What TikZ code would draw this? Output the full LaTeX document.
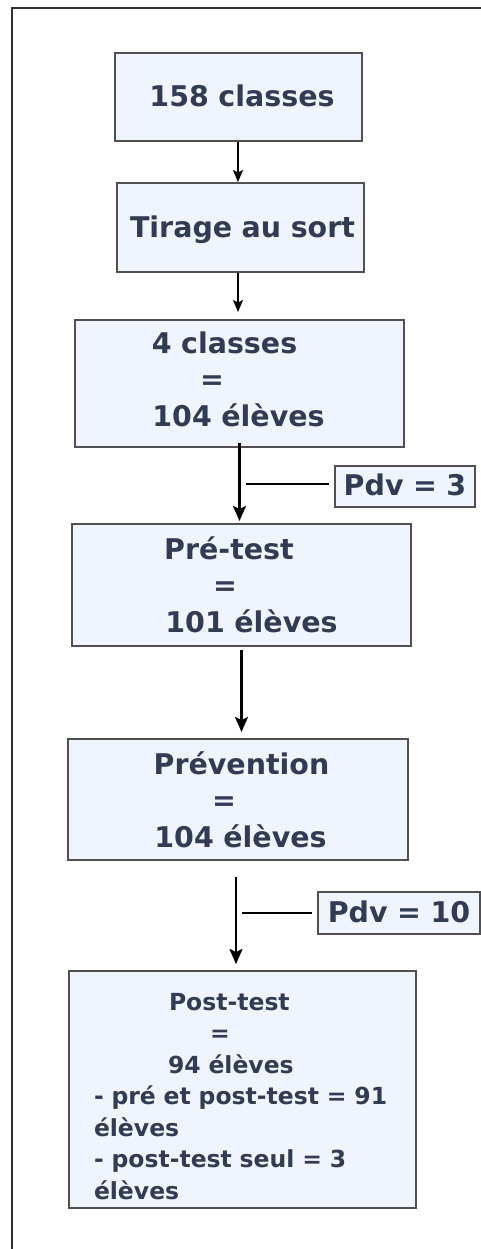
\documentclass[tikz,border=0pt]{standalone}
\usepackage{fontspec}
\setmainfont{DejaVu Sans}
\usetikzlibrary{arrows.meta,calc}
\definecolor{txt}{RGB}{50,59,84}
\definecolor{boxfill}{RGB}{240,244,252}
\definecolor{boxline}{RGB}{80,80,80}
\definecolor{frameline}{RGB}{50,50,50}
\tikzset{
  fbox/.style={draw=boxline, line width=2pt, fill=boxfill, rectangle, inner sep=0pt,
    text=txt, align=center, font=\bfseries\fontsize{28.5}{36.8}\selectfont},
  arr/.style={draw=black, line width=2.3pt, -{Stealth[length=15pt,width=13pt,inset=3pt]}},
  thinarr/.style={draw=black, line width=1.8pt, -{Stealth[length=12pt,width=10pt,inset=2.5pt]}},
  sideline/.style={draw=black, line width=2.4pt}
}
\begin{document}
\begin{tikzpicture}[x=1pt,y=-1pt]
\useasboundingbox (0,0) rectangle (481,1249);
% outer frame (left and top edges visible)
\draw[frameline, line width=1.8pt] (12,1252) -- (12,8) -- (484,8);
% boxes
\node[fbox, text width=247pt, text height=54pt, text depth=34pt] (b1) at (238.5,97) {\hspace*{7pt}158 classes};
\node[fbox, text width=247pt, text height=54pt, text depth=35pt] (b2) at (240.5,227.5) {\hspace*{4pt}Tirage au sort};
\node[fbox, text width=329pt, text height=33pt, text depth=94pt] (b3) at (239.5,383.5)
  {4 classes\kern30pt\\ =\kern55pt\\ 104 élèves\kern2pt};
\node[fbox, text width=339pt, text height=35pt, text depth=87pt] (b4) at (241.5,585)
  {Pré-test\kern25pt\\ =\kern33pt\\ \hspace*{20pt}101 élèves};
\node[fbox, text width=340pt, text height=35pt, text depth=86pt] (b5) at (238,799.5)
  {\hspace*{7pt}Prévention\\ =\kern28pt\\ \hspace*{5pt}104 élèves};
\node[fbox, align=left, text width=347pt, text height=39pt, text depth=198pt,
  font=\bfseries\fontsize{23.5}{31.5}\selectfont] (b6) at (242.5,1089.5)
  {\hspace*{100pt}Post-test\\
   \hspace*{141pt}=\\
   \hspace*{99pt}94 élèves\\
   \hspace*{25pt}- pré et post-test = 91\\
   \hspace*{25pt}élèves\\
   \hspace*{25pt}- post-test seul = 3\\
   \hspace*{25pt}élèves};
\node[fbox, text width=140pt, text height=29pt, text depth=12pt] (p3) at (405,486.5) {Pdv = 3};
\node[fbox, text width=162pt, text height=30pt, text depth=12pt] (p10) at (399,913) {Pdv = 10};
% connectors
\draw[thinarr] ($(b1.south)+(-0.5,0)$) -- ($(b1.south |- b2.north)+(-0.5,0)$);
\draw[thinarr, shorten >=7pt] ($(b2.south)+(-2.5,0)$) -- ($(b2.south |- b3.north)+(-2.5,0)$);
\draw[arr, shorten <=-5pt, shorten >=2pt] (b3.south) -- (b3.south |- b4.north);
\coordinate (j3) at (246,484);
\draw[sideline, shorten >=5pt] (j3) -- (j3 -| p3.west);
\draw[arr, shorten <=3pt, shorten >=6pt] (b4.south) -- (b4.south |- b5.north);
\coordinate (s5) at (236,877);
\draw[arr, shorten >=6pt] (s5) -- (s5 |- b6.north);
\coordinate (j10) at (242,913);
\draw[sideline, shorten >=5pt] (j10) -- (j10 -| p10.west);
\end{tikzpicture}
\end{document}
